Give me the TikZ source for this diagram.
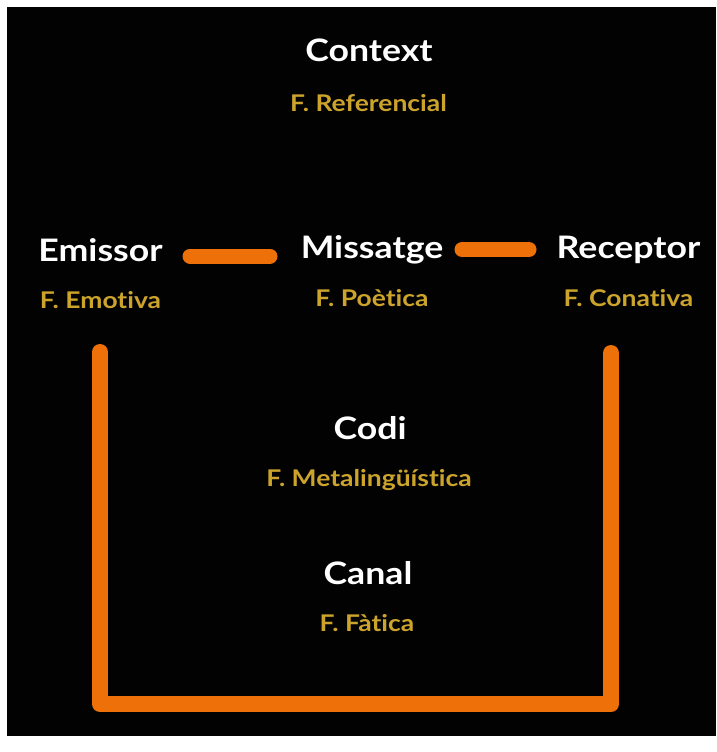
\documentclass[tikz,border=0pt]{standalone}
\usepackage{fontspec}
\setmainfont{Lato}[BoldFont={Lato Bold},FakeStretch=1.15,Ligatures=NoCommon]
\definecolor{bgblack}{RGB}{2,2,2}
\definecolor{barorange}{RGB}{238,112,8}
\definecolor{gold}{RGB}{204,164,44}
\begin{document}
\begin{tikzpicture}[x=1pt,y=-1pt,
  title/.style={text=white,font=\bfseries\fontsize{31}{36}\selectfont,anchor=base,inner sep=0pt},
  sub/.style={text=gold,font=\bfseries\fontsize{23}{27}\selectfont,anchor=base,inner sep=0pt},
  bar/.style={draw=barorange,line width=15pt,line cap=round,line join=round}]
\useasboundingbox (0,0) rectangle (716,752);
\fill[white] (0,0) rectangle (716,752);
\fill[bgblack] (7,7) rectangle (716,736);
% texts
\node[title] (ctx) at (369,62) {Context};
\node[sub] (ctxf) at (368.5,111) {F. Referencial};
\node[title] (em) at (100.5,261) {Emissor};
\node[sub] (emf) at (100.5,308) {F. Emotiva};
\node[title] (mis) at (372,258) {Missatge};
\node[sub] (misf) at (372,306) {F. Poètica};
\node[title] (rec) at (628.5,258) {Receptor};
\node[sub] (recf) at (628.5,306) {F. Conativa};
\node[title] (codi) at (370,439) {Codi};
\node[sub] (codif) at (369,486) {F. Metalingüística};
\node[title] (can) at (368,584) {Canal};
\node[sub] (canf) at (367,631) {F. Fàtica};
% bar end points
\coordinate (b1a) at (190,256);
\coordinate (b1b) at (270,256);
\coordinate (b2a) at (462,249.5);
\coordinate (b2b) at (529,249.5);
\coordinate (ul) at (100,352);
\coordinate (ulb) at (100,704);
\coordinate (urb) at (611,704);
\coordinate (ur) at (611,353);
\draw[bar] (b1a) -- (b1b);
\draw[bar] (b2a) -- (b2b);
\draw[bar,line width=16pt] (ul) -- (ulb) -- (urb) -- (ur);
\end{tikzpicture}
\end{document}
